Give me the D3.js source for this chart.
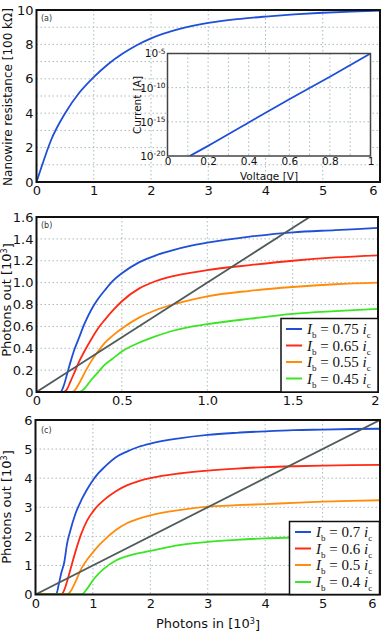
<!DOCTYPE html>
<html>
<head>
<meta charset="utf-8">
<script src="https://cdn.jsdelivr.net/npm/d3@7"></script>
<style>
  body { margin: 0; background: #fff; }
</style>
</head>
<body>
<script>
// ---- data ----
// (a) nanowire resistance vs time
const resX = [0, 0.1, 0.25, 0.5, 0.75, 1, 1.25, 1.5, 1.75, 2, 2.5, 3, 3.5, 4, 4.5, 5, 5.5, 6];
const resY = [0, 1.0, 2.4, 4.0, 5.2, 6.1, 6.85, 7.45, 7.95, 8.35, 8.9, 9.25, 9.47, 9.62, 9.74, 9.84, 9.91, 9.96];
// (a) inset: current vs voltage
const ivV = [0.11, 0.2, 0.4, 0.6, 0.8, 1.0];
const ivI = [1e-20, 3e-19, 8e-16, 2e-12, 4e-9, 1e-5];

// (b) photons out vs photons in
const bX = [0, 0.14, 0.16, 0.18, 0.2, 0.22, 0.25, 0.28, 0.32, 0.36, 0.4, 0.45, 0.5, 0.6, 0.7, 0.8, 0.9, 1.0, 1.25, 1.5, 1.75, 2.0];
const b75 = [0, 0, 0.06, 0.17, 0.28, 0.38, 0.50, 0.62, 0.75, 0.85, 0.93, 1.02, 1.085, 1.185, 1.25, 1.297, 1.335, 1.365, 1.42, 1.46, 1.48, 1.50];
const b65 = [0, 0, 0, 0.03, 0.10, 0.17, 0.28, 0.37, 0.48, 0.58, 0.66, 0.75, 0.83, 0.945, 1.015, 1.06, 1.09, 1.115, 1.16, 1.20, 1.23, 1.25];
const b55 = [0, 0, 0, 0, 0, 0.01, 0.08, 0.17, 0.28, 0.37, 0.45, 0.52, 0.58, 0.68, 0.75, 0.80, 0.84, 0.875, 0.925, 0.96, 0.985, 1.00];
const b45 = [0, 0, 0, 0, 0, 0, 0, 0.03, 0.11, 0.18, 0.25, 0.31, 0.37, 0.45, 0.51, 0.56, 0.595, 0.62, 0.67, 0.715, 0.74, 0.76];
const bLabels = ["0.75", "0.65", "0.55", "0.45"];

// (c) photons out vs photons in, higher flux
const cX = [0, 0.3, 0.36, 0.4, 0.45, 0.5, 0.55, 0.6, 0.7, 0.8, 0.9, 1.0, 1.1, 1.2, 1.4, 1.6, 1.8, 2.0, 2.5, 3, 3.5, 4, 4.5, 5, 5.5, 6.0];
const c70 = [0, 0, 0, 0.3, 0.75, 1.1, 1.75, 2.15, 2.8, 3.25, 3.62, 3.93, 4.18, 4.38, 4.72, 4.92, 5.08, 5.19, 5.37, 5.49, 5.56, 5.61, 5.65, 5.67, 5.69, 5.70];
const c60 = [0, 0, 0, 0, 0, 0.15, 0.45, 0.8, 1.5, 2.1, 2.55, 2.85, 3.08, 3.26, 3.55, 3.76, 3.9, 4.0, 4.16, 4.26, 4.33, 4.38, 4.41, 4.43, 4.45, 4.46];
const c50 = [0, 0, 0, 0, 0, 0, 0, 0.08, 0.45, 0.9, 1.2, 1.45, 1.68, 1.88, 2.22, 2.46, 2.61, 2.72, 2.9, 3.02, 3.07, 3.11, 3.15, 3.19, 3.22, 3.24];
const c40 = [0, 0, 0, 0, 0, 0, 0, 0, 0, 0, 0.2, 0.49, 0.72, 0.9, 1.17, 1.32, 1.42, 1.5, 1.7, 1.81, 1.88, 1.93, 1.96, 1.99, 2.01, 2.03];
const cLabels = ["0.7", "0.6", "0.5", "0.4"];

const colors = ["#1f4fd8", "#ff2a14", "#ff8c0a", "#3ae524"];
const grey = "#4f5b5b";

const width = 382, height = 634;
const svg = d3.select("body").append("svg")
  .attr("width", width)
  .attr("height", height)
  .attr("font-family", "DejaVu Sans, sans-serif");

let clipId = 0;

// draws frame, grid, tick labels; returns scales and a clipped group
function panel(o) {
  const x = d3.scaleLinear().domain(o.xd).range([o.left, o.right]);
  const y = (o.log ? d3.scaleLog() : d3.scaleLinear()).domain(o.yd).range([o.bottom, o.top]);
  const g = svg.append("g");

  g.append("rect")
    .attr("x", o.left).attr("y", o.top)
    .attr("width", o.right - o.left).attr("height", o.bottom - o.top)
    .attr("fill", "#fff");

  // dotted grid
  g.append("g").selectAll("line").data(o.xgrid).join("line")
    .attr("x1", d => x(d)).attr("x2", d => x(d))
    .attr("y1", o.top).attr("y2", o.bottom)
    .attr("stroke", "#a9b8b8").attr("stroke-width", 1).attr("stroke-dasharray", "1.5,2.5");
  g.append("g").selectAll("line").data(o.ygrid).join("line")
    .attr("x1", o.left).attr("x2", o.right)
    .attr("y1", d => y(d)).attr("y2", d => y(d))
    .attr("stroke", "#a9b8b8").attr("stroke-width", 1).attr("stroke-dasharray", "1.5,2.5");

  // tick labels via axes (no tick marks)
  const xa = g.append("g")
    .attr("transform", "translate(0," + o.bottom + ")")
    .call(d3.axisBottom(x).tickValues(o.xticks).tickFormat(o.xfmt).tickSize(0).tickPadding(o.tp || 4));
  xa.select(".domain").remove();
  xa.selectAll("text").attr("font-size", o.fs).attr("fill", "#111")
    .attr("font-family", "DejaVu Sans");
  if (o.lastShift) {
    xa.selectAll("text").filter((d, i) => i === o.xticks.length - 1).attr("dx", o.lastShift);
  }

  const ya = g.append("g")
    .attr("transform", "translate(" + o.left + ",0)")
    .call(d3.axisLeft(y).tickValues(o.yticks).tickFormat(o.log ? "" : o.yfmt).tickSize(0).tickPadding(o.tpy || 3));
  ya.select(".domain").remove();
  ya.selectAll("text").attr("font-size", o.fs).attr("fill", "#111")
    .attr("font-family", "DejaVu Sans");
  if (o.log) {
    ya.selectAll("text").each(function(d) {
      const t = d3.select(this);
      t.append("tspan").text("10");
      t.append("tspan").attr("dy", "-0.5em").attr("font-size", o.fs * 0.7).text(Math.round(Math.log10(d)));
    });
  }

  const id = "clip" + (clipId++);
  svg.append("clipPath").attr("id", id).append("rect")
    .attr("x", o.left).attr("y", o.top)
    .attr("width", o.right - o.left).attr("height", o.bottom - o.top);
  const plot = svg.append("g").attr("clip-path", "url(#" + id + ")");

  return { x: x, y: y, plot: plot, frame: function() {
    svg.append("rect")
      .attr("x", o.left).attr("y", o.top)
      .attr("width", o.right - o.left).attr("height", o.bottom - o.top)
      .attr("fill", "none").attr("stroke", o.frameColor || "#111").attr("stroke-width", o.frameW || 2);
  } };
}

function drawLine(p, xs, ys, color, w, straight) {
  const line = d3.line().x((d, i) => p.x(xs[i])).y(d => p.y(d));
  if (!straight) line.curve(d3.curveMonotoneX);
  p.plot.append("path").datum(ys)
    .attr("d", line)
    .attr("fill", "none")
    .attr("stroke", color)
    .attr("stroke-width", w || 1.8)
    .attr("stroke-linejoin", "round");
}

function panelTag(x, y, t) {
  svg.append("text").attr("x", x).attr("y", y)
    .attr("font-size", 8).attr("fill", "#333").text(t);
}

function yLabel(x, y, t, sup, fs) {
  const tx = svg.append("text")
    .attr("transform", "translate(" + x + "," + y + ") rotate(-90)")
    .attr("text-anchor", "middle")
    .attr("font-size", fs || 13).attr("fill", "#111");
  tx.append("tspan").text(t);
  if (sup) {
    tx.append("tspan").attr("dy", "-0.45em").attr("font-size", 8).text(sup);
    tx.append("tspan").attr("dy", "0.45em").text("]");
  }
}

function legend(x0, y0, w, h, rows, lineX, lineW, textX, labels) {
  svg.append("rect").attr("x", x0).attr("y", y0).attr("width", w).attr("height", h)
    .attr("fill", "#fff").attr("stroke", "#111").attr("stroke-width", 1.5);
  labels.forEach(function(l, i) {
    const yy = rows[i];
    svg.append("line").attr("x1", lineX).attr("x2", lineX + lineW)
      .attr("y1", yy).attr("y2", yy)
      .attr("stroke", colors[i]).attr("stroke-width", 2);
    const t = svg.append("text").attr("x", textX).attr("y", yy + 5)
      .attr("font-family", "Liberation Serif, serif").attr("font-size", 15).attr("fill", "#111");
    t.append("tspan").attr("font-style", "italic").text("I");
    t.append("tspan").attr("font-size", 9).attr("dy", 4).text("b");
    t.append("tspan").attr("dy", -4).text(" = " + l + " ");
    t.append("tspan").attr("font-style", "italic").text("i");
    t.append("tspan").attr("font-size", 9).attr("dy", 4).text("c");
  });
}

// ---------- panel (a) ----------
const pa = panel({
  xd: [0, 6], yd: [0, 10], left: 36.5, right: 380, top: 10, bottom: 182,
  xgrid: [1, 2, 3, 4, 5], ygrid: [1, 2, 3, 4, 5, 6, 7, 8, 9],
  xticks: [0, 1, 2, 3, 4, 5, 6], yticks: [0, 2, 4, 6, 8, 10],
  xfmt: d3.format("d"), yfmt: d3.format("d"), fs: 13, lastShift: -7
});
drawLine(pa, resX, resY, colors[0], 1.8);
pa.frame();
panelTag(41, 21, "(a)");
yLabel(12, 97, "Nanowire resistance [100 k\u03A9]", null, 12);

// inset
const pi = panel({
  xd: [0, 1], yd: [1e-20, 1e-5], log: true,
  left: 167.5, right: 370.5, top: 53.5, bottom: 156,
  xgrid: [0.1, 0.2, 0.3, 0.4, 0.5, 0.6, 0.7, 0.8, 0.9], ygrid: [1e-15, 1e-10],
  xticks: [0, 0.2, 0.4, 0.6, 0.8, 1], yticks: [1e-20, 1e-15, 1e-10, 1e-5],
  xfmt: d => d === 0 || d === 1 ? d3.format("d")(d) : d3.format(".1f")(d),
  fs: 10.5, tp: 2, tpy: 2, frameColor: "#444", frameW: 1.5
});
drawLine(pi, ivV, ivI, colors[0], 1.8);
pi.frame();
svg.append("text").attr("x", 269).attr("y", 180).attr("text-anchor", "middle")
  .attr("font-size", 10.5).attr("fill", "#111").text("Voltage [V]");
svg.append("text").attr("transform", "translate(141,105) rotate(-90)").attr("text-anchor", "middle")
  .attr("font-size", 10.5).attr("fill", "#111").text("Current [A]");

// ---------- panel (b) ----------
const pb = panel({
  xd: [0, 2], yd: [0, 1.6], left: 36.5, right: 378, top: 217, bottom: 392,
  xgrid: [0.5, 1.0, 1.5], ygrid: [0.2, 0.4, 0.6, 0.8, 1.0, 1.2, 1.4],
  xticks: [0, 0.5, 1.0, 1.5, 2], yticks: [0, 0.2, 0.4, 0.6, 0.8, 1.0, 1.2, 1.4, 1.6],
  xfmt: d => d === 0 || d === 2 ? d3.format("d")(d) : d3.format(".1f")(d),
  yfmt: d => d === 0 ? "0" : d3.format(".1f")(d), fs: 13, lastShift: -3
});
[b75, b65, b55, b45].forEach((s, i) => drawLine(pb, bX, s, colors[i], 1.8));
drawLine(pb, [0, 1.6], [0, 1.6], grey, 1.8, true);
pb.frame();
panelTag(41, 228, "(b)");
yLabel(11, 300, "Photons out [10", "3");
legend(281, 318.5, 97, 73.5, [329, 345.5, 362, 378.5], 286, 16, 307, bLabels);

// ---------- panel (c) ----------
const pc = panel({
  xd: [0, 6], yd: [0, 6], left: 35.5, right: 380, top: 420, bottom: 594.5,
  xgrid: [1, 2, 3, 4, 5], ygrid: [1, 2, 3, 4, 5],
  xticks: [0, 1, 2, 3, 4, 5, 6], yticks: [0, 1, 2, 3, 4, 5, 6],
  xfmt: d3.format("d"), yfmt: d3.format("d"), fs: 13, lastShift: -8
});
[c70, c60, c50, c40].forEach((s, i) => drawLine(pc, cX, s, colors[i], 1.8));
drawLine(pc, [0, 6], [0, 6], grey, 1.8, true);
pc.frame();
panelTag(41, 433, "(c)");
yLabel(11, 507, "Photons out [10", "3");
legend(289.5, 521.5, 90, 73, [532, 548.5, 565, 582], 295, 16, 316, cLabels);

// shared x label
const xl = svg.append("text").attr("x", 208).attr("y", 628).attr("text-anchor", "middle")
  .attr("font-size", 13).attr("fill", "#111");
xl.append("tspan").text("Photons in [10");
xl.append("tspan").attr("dy", "-0.45em").attr("font-size", 8).text("3");
xl.append("tspan").attr("dy", "0.45em").text("]");
</script>
</body>
</html>
